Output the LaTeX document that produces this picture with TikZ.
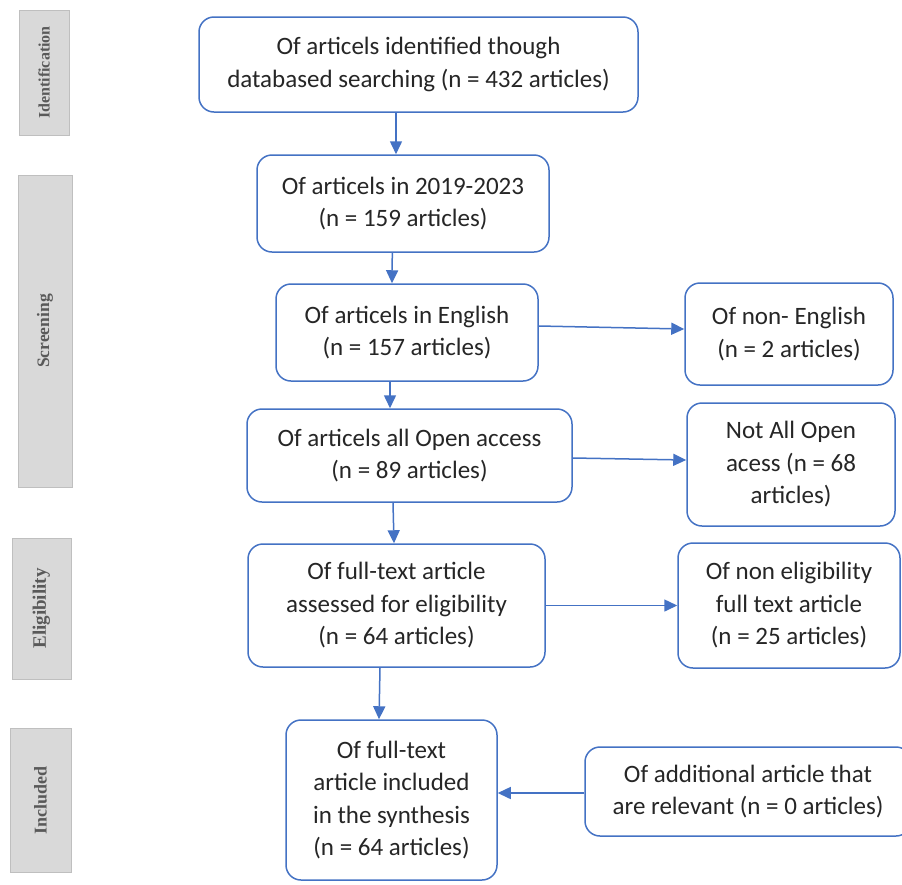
\documentclass[tikz,border=0pt]{standalone}
\usepackage{fontspec}
\setmainfont{Carlito}
\newfontfamily\lblfont{Liberation Serif}
\usetikzlibrary{arrows.meta}
\definecolor{bblue}{HTML}{4472C4}
\definecolor{txt}{HTML}{262626}
\definecolor{lblfill}{HTML}{D9D9D9}
\definecolor{lbldraw}{HTML}{BFBFBF}
\definecolor{lbltxt}{HTML}{595959}
\begin{document}
\begin{tikzpicture}[x=1pt,y=-1pt,
 flowbox/.style={draw=bblue,line width=1.5pt,rounded corners=15pt,fill=white,align=center,text=txt,font=\fontsize{25}{32.5}\selectfont,inner sep=0pt},
 stage/.style={draw=lbldraw,line width=1pt,fill=lblfill,inner sep=0pt,rotate=90,font=\lblfont\bfseries,text=lbltxt},
 arr/.style={draw=bblue,line width=1.5pt,-{Triangle[length=13pt,width=12pt]}}]
\useasboundingbox (0,0) rectangle (902,884);
\clip (0,0) rectangle (902,884);
\fill[white] (0,0) rectangle (902,884);

% stage labels
\node[stage,minimum width=125pt,minimum height=50pt] (sid) at (44,72.5) {\fontsize{16}{19}\selectfont Identification};
\node[stage,minimum width=312pt,minimum height=54pt] (ssc) at (45,331) {\fontsize{17.5}{20}\selectfont Screening};
\node[stage,minimum width=141pt,minimum height=59pt] (sel) at (41.5,608.5) {\fontsize{19}{22}\selectfont Eligibility};
\node[stage,minimum width=144pt,minimum height=61pt] (sin) at (40.5,800) {\fontsize{18}{21}\selectfont Included};

% main column
\node[flowbox,minimum width=439pt,minimum height=95pt] (b1) at (418.5,64.5) {Of articels identified though\\databased searching (n = 432 articles)};
\node[flowbox,minimum width=292pt,minimum height=97pt] (b2) at (403,203.5) {Of articels in 2019-2023\\(n = 159 articles)};
\node[flowbox,minimum width=262pt,minimum height=97pt] (b3) at (407,332.5) {Of articels in English\\(n = 157 articles)};
\node[flowbox,minimum width=325pt,minimum height=93pt] (b4) at (409.5,455.5) {Of articels all Open access\\(n = 89 articles)};
\node[flowbox,minimum width=297pt,minimum height=123pt] (b5) at (396.5,605.5) {Of full-text article\\assessed for eligibility\\(n = 64 articles)};
\node[flowbox,minimum width=211pt,minimum height=160pt] (b6) at (391.5,800) {Of full-text\\article included\\in the synthesis\\(n = 64 articles)};

% side boxes
\node[flowbox,minimum width=208pt,minimum height=102pt] (r1) at (789,334) {Of non- English\\(n = 2 articles)};
\node[flowbox,minimum width=208pt,minimum height=123pt] (r2) at (791,464.5) {Not All Open\\acess (n = 68\\articles)};
\node[flowbox,minimum width=222pt,minimum height=125pt] (r3) at (789,605.5) {Of non eligibility\\full text article\\(n = 25 articles)};
\node[flowbox,minimum width=326pt,minimum height=89pt] (r4) at (748,791.5) {Of additional article that\\are relevant (n = 0 articles)};

% connectors
\draw[arr] ([xshift=-22.5pt]b1.south) -- ([xshift=-7pt]b2.north);
\draw[arr] ([xshift=-10.7pt]b2.south) -- ([xshift=-15pt]b3.north);
\draw[arr] ([xshift=-17pt]b3.south) -- ([xshift=-19.5pt]b4.north);
\draw[arr] ([xshift=-16.5pt]b4.south) -- ([xshift=-2.5pt]b5.north);
\draw[arr] ([xshift=-16.5pt]b5.south) -- ([xshift=-12.5pt]b6.north);
\draw[arr] ([yshift=6.5pt]b3.east) -- ([yshift=5pt]r1.west);
\draw[arr] ([yshift=-2.5pt]b4.east) -- ([yshift=4.5pt]r2.west);
\draw[arr] (b5.east) -- (r3.west);
\draw[arr] ([yshift=-1.5pt]r4.west) -- ([yshift=7pt]b6.east);
\end{tikzpicture}
\end{document}
